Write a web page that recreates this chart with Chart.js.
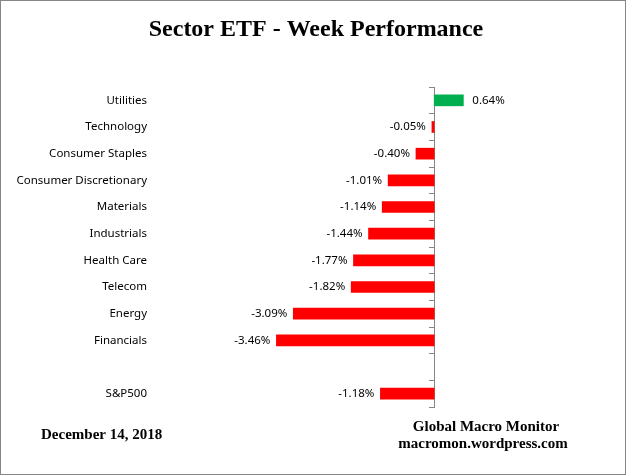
<!DOCTYPE html>
<html>
<head>
<meta charset="utf-8">
<script src="https://cdn.jsdelivr.net/npm/chart.js@4.4.1/dist/chart.umd.min.js"></script>
<style>
  html, body { margin: 0; padding: 0; background: #fff; }
  #wrap { width: 626px; height: 475px; box-sizing: border-box; border: 1px solid #868686; position: relative; }
  #sectorChart { display: block; }
</style>
</head>
<body>
<div id="wrap"><canvas id="sectorChart" width="624" height="473"></canvas></div>
<script>
// weekly % change per sector ETF (blank row separates S&P500)
const sectors = ['Utilities', 'Technology', 'Consumer Staples', 'Consumer Discretionary', 'Materials',
  'Industrials', 'Health Care', 'Telecom', 'Energy', 'Financials', '', 'S&P500'];
const weekChange = [0.64, -0.05, -0.40, -1.01, -1.14, -1.44, -1.77, -1.82, -3.09, -3.46, null, -1.18];

const chartTitle = 'Sector ETF - Week Performance';
const dateText = 'December 14, 2018';
const sourceLines = ['Global Macro Monitor', 'macromon.wordpress.com'];

const labelFont = "11.5px 'Noto Sans', sans-serif";
const serifBold = size => `bold ${size}px 'Liberation Serif', 'Times New Roman', serif`;

// value labels next to each bar + title / footer texts
const textPlugin = {
  id: 'textPlugin',
  afterDatasetsDraw(chart) {
    const ctx = chart.ctx;
    const meta = chart.getDatasetMeta(0);
    ctx.save();
    ctx.font = labelFont;
    ctx.fillStyle = '#000';
    ctx.textBaseline = 'middle';
    meta.data.forEach((bar, i) => {
      const v = weekChange[i];
      if (v === null || v === undefined) return;
      const label = v.toFixed(2) + '%';
      if (v >= 0) {
        ctx.textAlign = 'left';
        ctx.fillText(label, bar.x + 9, bar.y);
      } else {
        ctx.textAlign = 'right';
        ctx.fillText(label, bar.x - 6, bar.y);
      }
    });
    ctx.restore();
  },
  afterDraw(chart) {
    const ctx = chart.ctx;
    ctx.save();
    ctx.fillStyle = '#000';
    ctx.textBaseline = 'alphabetic';
    ctx.textAlign = 'center';
    ctx.font = serifBold(24);
    ctx.fillText(chartTitle, 315, 35);
    ctx.font = serifBold(15);
    ctx.fillText(sourceLines[0], 485, 430);
    ctx.fillText(sourceLines[1], 482, 447);
    ctx.textAlign = 'left';
    ctx.fillText(dateText, 40, 438);
    ctx.restore();
  }
};

const ctx = document.getElementById('sectorChart');
new Chart(ctx, {
  type: 'bar',
  data: {
    labels: sectors,
    datasets: [{
      data: weekChange,
      backgroundColor: weekChange.map(v => v >= 0 ? '#00B050' : '#FF0000'),
      barThickness: 11,
      yAxisID: 'y'
    }]
  },
  options: {
    indexAxis: 'y',
    responsive: false,
    animation: false,
    layout: { padding: { left: 0, right: 54, top: 86, bottom: 67 } },
    scales: {
      x: {
        display: false,
        min: -6.1,
        max: 3
      },
      y: {
        position: 'left',
        afterFit: scale => { scale.width = 155; },
        grid: { display: false },
        border: { display: false },
        ticks: {
          color: '#000',
          padding: 1,
          font: { family: "'Noto Sans', sans-serif", size: 11.5 }
        }
      },
      y2: {
        type: 'category',
        position: { x: 0 },
        offset: true,
        ticks: { display: false },
        grid: { offset: true, drawOnChartArea: false, drawTicks: true, tickLength: 5, color: '#868686' },
        border: { display: true, color: '#868686' }
      }
    },
    plugins: {
      legend: { display: false },
      tooltip: { enabled: false }
    }
  },
  plugins: [textPlugin]
});
</script>
</body>
</html>
